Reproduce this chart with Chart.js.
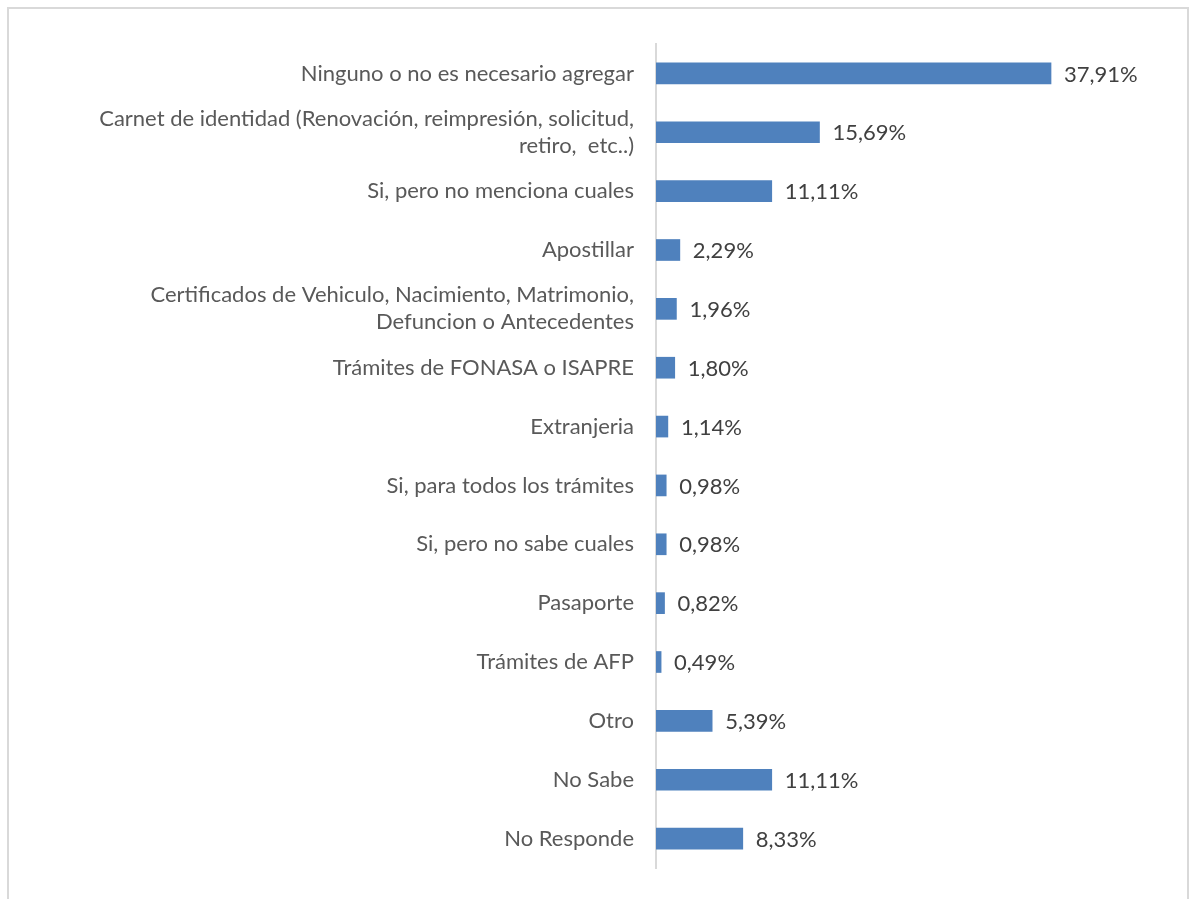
<!DOCTYPE html>
<html>
<head>
<meta charset="utf-8">
<script src="https://cdn.jsdelivr.net/npm/chart.js@4/dist/chart.umd.min.js"></script>
<style>
  html, body { margin: 0; padding: 0; background: #fff; }
  #frame { position: absolute; left: 7px; top: 7px; width: 1182px; height: 900px; border: 2px solid #d9d9d9; border-bottom: none; box-sizing: border-box; }
  #wrap { position: absolute; left: 0; top: 0; width: 1199px; height: 899px; }
</style>
</head>
<body>
<div id="frame"></div>
<div id="wrap"><canvas id="barChart"></canvas></div>
<script>
const categories = [
    'Ninguno o no es necesario agregar',
    ['Carnet de identidad (Renovación, reimpresión, solicitud,', 'retiro,  etc..)'],
    'Si, pero no menciona cuales',
    'Apostillar',
    ['Certificados de Vehiculo, Nacimiento, Matrimonio,', 'Defuncion o Antecedentes'],
    'Trámites de FONASA o ISAPRE',
    'Extranjeria',
    'Si, para todos los trámites',
    'Si, pero no sabe cuales',
    'Pasaporte',
    'Trámites de AFP',
    'Otro',
    'No Sabe',
    'No Responde'
];
const percentages = [37.91, 15.69, 11.11, 2.29, 1.96, 1.80, 1.14, 0.98, 0.98, 0.82, 0.49, 5.39, 11.11, 8.33];

const fontFamily = 'Lato, "Open Sans", sans-serif';

// etiquetas de valor al final de cada barra
const valueLabels = {
    id: 'valueLabels',
    afterDatasetsDraw(chart) {
        const ctx = chart.ctx;
        const meta = chart.getDatasetMeta(0);
        ctx.save();
        ctx.font = '22px ' + fontFamily;
        ctx.fillStyle = '#404040';
        ctx.textAlign = 'left';
        ctx.textBaseline = 'middle';
        meta.data.forEach((bar, i) => {
            const txt = percentages[i].toFixed(2).replace('.', ',') + '%';
            ctx.fillText(txt, bar.x + 13, bar.y + 1);
        });
        ctx.restore();
    }
};

const ctxBar = document.getElementById('barChart').getContext('2d');
new Chart(ctxBar, {
    type: 'bar',
    data: {
        labels: categories,
        datasets: [{
            data: percentages,
            backgroundColor: '#4f81bd',
            borderWidth: 0,
            barThickness: 21
        }]
    },
    options: {
        indexAxis: 'y',
        responsive: true,
        maintainAspectRatio: false,
        animation: false,
        layout: {
            padding: { top: 44, bottom: 31, right: 22, left: 0 }
        },
        scales: {
            x: {
                display: false,
                min: 0,
                max: 50
            },
            y: {
                offset: true,
                grid: { display: false, drawTicks: false },
                border: { display: true, color: '#d9d9d9', width: 2 },
                ticks: {
                    color: '#595959',
                    padding: 22,
                    font: { family: fontFamily, size: 22, lineHeight: 1.23 }
                },
                afterFit: (scale) => {
                    scale.width = 656;
                    scale.paddingTop = 0;
                    scale.paddingBottom = 0;
                }
            }
        },
        plugins: {
            legend: { display: false },
            tooltip: { enabled: false }
        }
    },
    plugins: [valueLabels]
});
</script>
</body>
</html>
